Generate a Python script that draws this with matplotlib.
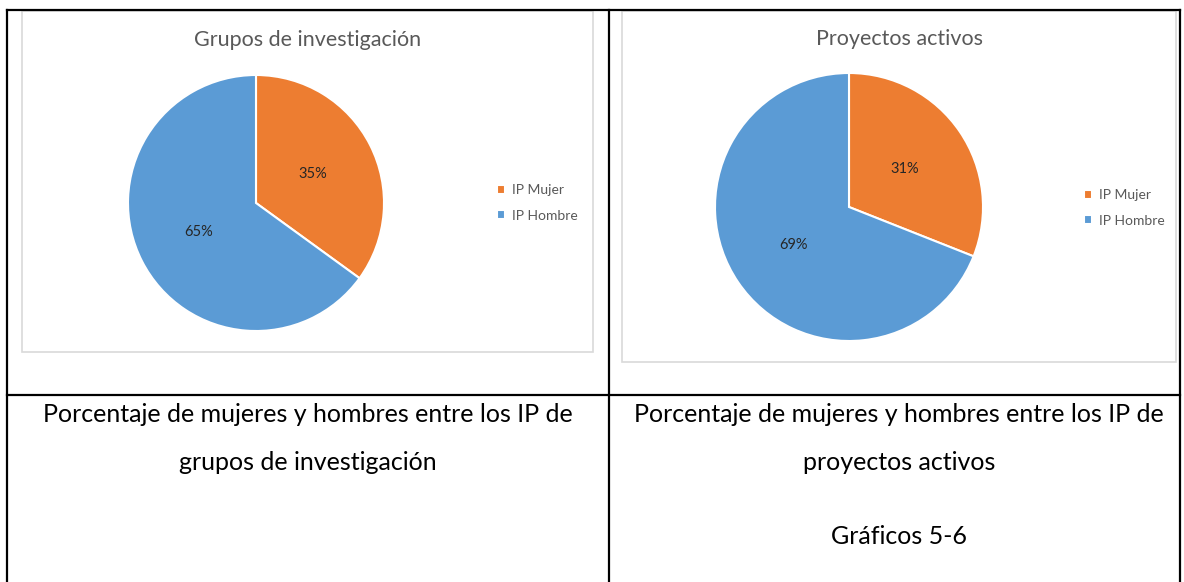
import matplotlib.pyplot as plt
from matplotlib.lines import Line2D
from matplotlib.patches import Rectangle

W, H = 1184, 582

labels = ['IP Mujer', 'IP Hombre']
grupos = [35, 65]
proyectos = [31, 69]
titles = ['Grupos de investigación', 'Proyectos activos']
captions_left = ['Porcentaje de mujeres y hombres entre los IP de', 'grupos de investigación']
captions_right = ['Porcentaje de mujeres y hombres entre los IP de', 'proyectos activos', 'Gráficos 5-6']
colors = ['#ED7D31', '#5B9BD5']

plt.rcParams['font.family'] = ['Lato', 'DejaVu Sans']

fig = plt.figure(figsize=(W / 100, H / 100), dpi=100)


def fx(px):
    return px / W


def fy(py):
    return 1 - py / H


# table lines
for (x0, y0, x1, y1) in [(7, 10, 1180, 10), (7, 395, 1180, 395), (7, 10, 7, 582),
                         (609, 10, 609, 582), (1180, 10, 1180, 582)]:
    fig.add_artist(Line2D([fx(x0), fx(x1)], [fy(y0), fy(y1)], color='black', lw=1.6))

# chart frames
for (x0, y0, x1, y1) in [(22, 11, 593, 352), (622, 11, 1176, 362)]:
    fig.add_artist(Rectangle((fx(x0), fy(y1)), fx(x1) - fx(x0), fy(y0) - fy(y1),
                             fill=False, edgecolor='#D9D9D9', lw=1.2))


def draw_pie(values, cx, cy, r, title, tx, ty, lx, ly):
    ax = fig.add_axes([fx(cx - r), fy(cy + r), 2 * r / W, 2 * r / H])
    wedges, _, autotexts = ax.pie(values, colors=colors, startangle=90, counterclock=False,
                                  autopct='%.0f%%', pctdistance=0.5,
                                  wedgeprops=dict(edgecolor='white', linewidth=1.5),
                                  textprops=dict(fontsize=10.5, color='#262626'))
    ax.set_xlim(-1, 1)
    ax.set_ylim(-1, 1)
    fig.text(fx(tx), fy(ty), title, ha='center', va='center', fontsize=15.5, color='#595959')
    fig.legend(wedges, labels, loc='center left', bbox_to_anchor=(fx(lx), fy(ly)),
               frameon=False, fontsize=10, handlelength=0.6, handleheight=0.6,
               handletextpad=0.5, labelspacing=0.95, borderpad=0, labelcolor='#595959')


draw_pie(grupos, 256, 203, 128, titles[0], 308, 40, 490, 203)
draw_pie(proyectos, 849, 207, 134, titles[1], 900, 39, 1077, 208)

for i, t in enumerate(captions_left):
    fig.text(fx(308), fy(415 + i * 48), t, ha='center', va='center', fontsize=18, color='black')
for t, y in zip(captions_right, [415, 463, 537]):
    fig.text(fx(899), fy(y), t, ha='center', va='center', fontsize=18, color='black')

fig.savefig('out.png', dpi=100)
